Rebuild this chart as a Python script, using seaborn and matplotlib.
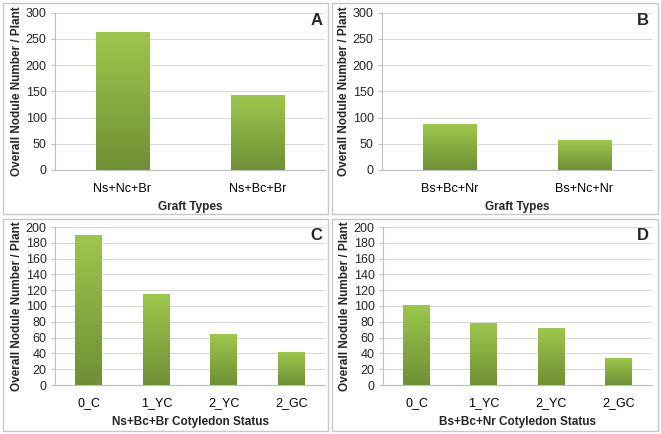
import numpy as np
import pandas as pd
import seaborn as sns
import matplotlib.pyplot as plt
from matplotlib.patches import Rectangle
from matplotlib.colors import LinearSegmentedColormap

sns.set_style("white")
plt.rcParams['font.family'] = ['Liberation Sans', 'DejaVu Sans']

# data
graft_a = ["Ns+Nc+Br", "Ns+Bc+Br"]
nodules_a = [264, 143]
graft_b = ["Bs+Bc+Nr", "Bs+Nc+Nr"]
nodules_b = [87, 57]
status = ["0_C", "1_YC", "2_YC", "2_GC"]
nodules_c = [190, 115, 64, 42]
nodules_d = [101, 78, 72, 34]

panels = [
    ("A", graft_a, nodules_a, "Graft Types", 300, 50),
    ("B", graft_b, nodules_b, "Graft Types", 300, 50),
    ("C", status, nodules_c, "Ns+Bc+Br Cotyledon Status", 200, 20),
    ("D", status, nodules_d, "Bs+Bc+Nr Cotyledon Status", 200, 20),
]

W, H = 661, 434
fig = plt.figure(figsize=(W / 100, H / 100), dpi=100)

# panel frames (pixels: x0, y0, x1, y1 from top-left)
frames = [(3, 3, 328, 214), (332, 3, 658, 214), (3, 219, 328, 431), (332, 219, 658, 431)]
for x0, y0, x1, y1 in frames:
    fig.patches.append(Rectangle((x0 / W, 1 - y1 / H), (x1 - x0) / W, (y1 - y0) / H,
                                 transform=fig.transFigure, fill=False,
                                 edgecolor="#c8c8c8", linewidth=1.0))

# axes boxes (pixels: left, top, right, bottom)
boxes = [(55, 12.7, 325, 170), (382, 12.7, 652, 170), (55, 227, 325, 385), (383, 227, 652, 385)]

grad = LinearSegmentedColormap.from_list("g", ["#6f9035", "#9ec64c"])

for (letter, cats, vals, xlab, ymax, step), (l, t, r, b) in zip(panels, boxes):
    ax = fig.add_axes([l / W, 1 - b / H, (r - l) / W, (b - t) / H])
    df = pd.DataFrame({"cat": cats, "val": vals})
    sns.barplot(data=df, x="cat", y="val", ax=ax, width=0.4, color="#86ad40")
    n = len(cats)
    ax.set_yticks(np.arange(0, ymax + 1, step))
    ax.yaxis.grid(True, color="#d9d9d9", linewidth=0.8)
    ax.set_axisbelow(True)

    # gradient fill on bars
    for p in ax.patches:
        x0, y0 = p.get_x(), p.get_y()
        w, h = p.get_width(), p.get_height()
        img = ax.imshow(np.linspace(0, 1, 100).reshape(-1, 1), cmap=grad, origin="lower",
                        extent=[x0, x0 + w, y0, y0 + h], aspect="auto", zorder=2)
        img.set_clip_path(p)
        p.set_facecolor("none")
        p.set_edgecolor("none")
    ax.set_xlim(-0.5, n - 0.5)
    ax.set_ylim(0, ymax)

    for s in ["top", "right"]:
        ax.spines[s].set_visible(False)
    for s in ["left", "bottom"]:
        ax.spines[s].set_color("#bfbfbf")
        ax.spines[s].set_linewidth(0.8)

    ax.set_xticks(np.arange(-0.5, n, 1.0), minor=True)
    ax.tick_params(axis="x", which="major", length=0, pad=9, labelsize=9, colors="#000000")
    ax.tick_params(axis="x", which="minor", length=4, color="#bfbfbf", direction="out")
    ax.tick_params(axis="y", length=3, color="#bfbfbf", labelsize=9, pad=3, left=True)
    ax.set_xlabel(xlab, fontsize=8.5, fontweight="bold", labelpad=5)
    ax.set_ylabel("Overall Nodule Number / Plant", fontsize=8.5, fontweight="bold", labelpad=2)
    ax.text(0.99, 0.995, letter, transform=ax.transAxes, ha="right", va="top",
            fontsize=12, fontweight="bold")

fig.savefig("out.png", dpi=100)
